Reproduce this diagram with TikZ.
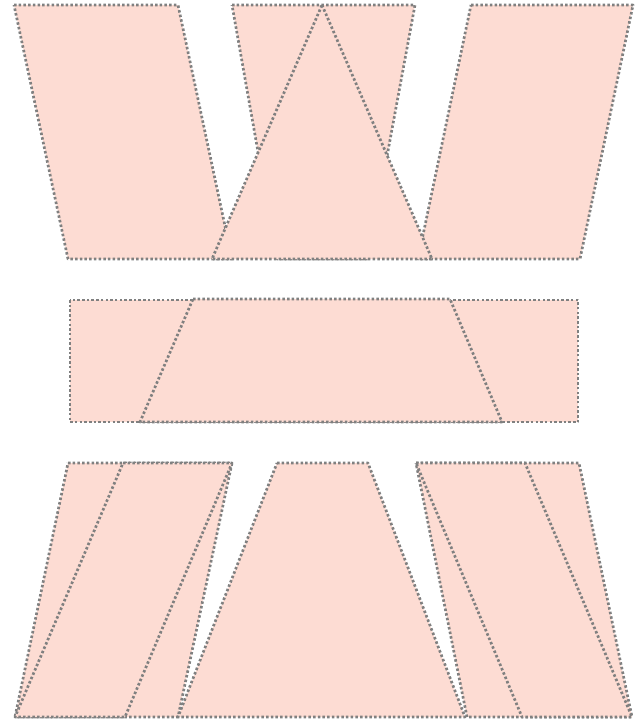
\documentclass[tikz,border=0pt]{standalone}
\definecolor{piece}{RGB}{253,220,211}
\definecolor{edge}{RGB}{128,128,128}
\tikzset{
  piecestyle/.style={fill=piece, draw=edge, line width=2.7pt, dash pattern=on 2.5pt off 2.2pt, line join=round}
}
\begin{document}
\begin{tikzpicture}[x=1pt,y=-1pt]
\useasboundingbox (0,0) rectangle (638,723);
% top row
\draw[piecestyle] (14,5) -- (178,5) -- (232,259) -- (68,259) -- cycle;
\draw[piecestyle] (232,5) -- (415,5) -- (368,259) -- (277,259) -- cycle;
\draw[piecestyle] (471,5) -- (633,5) -- (580,259) -- (418,259) -- cycle;
\draw[piecestyle] (322,5) -- (432,259) -- (212,259) -- cycle;
% middle row
\draw[piecestyle] (70,300) rectangle (578,422);
\draw[piecestyle] (193,299) -- (450,299) -- (502,422) -- (140,422) -- cycle;
% bottom row
\draw[piecestyle] (68,463) -- (232,463) -- (178,717) -- (15,717) -- cycle;
\draw[piecestyle] (123,463) -- (232,463) -- (125,717) -- (15,717) -- cycle;
\draw[piecestyle] (277,463) -- (368,463) -- (465,717) -- (178,717) -- cycle;
\draw[piecestyle] (416,463) -- (579,463) -- (632,717) -- (467,717) -- cycle;
\draw[piecestyle] (416,463) -- (525,463) -- (632,717) -- (522,717) -- cycle;
\end{tikzpicture}
\end{document}
